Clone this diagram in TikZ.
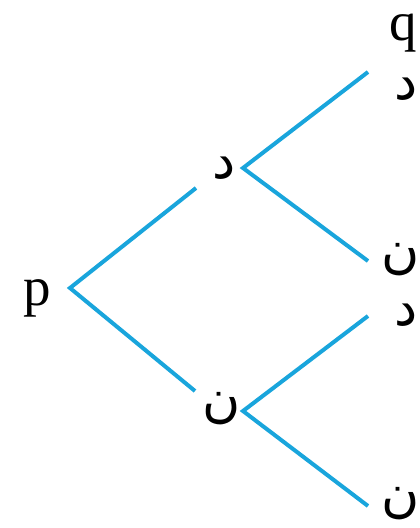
\documentclass[tikz,border=0pt]{standalone}
\usepackage{fontspec}
\setmainfont{Liberation Serif}
\newfontfamily\arabicfont[Script=Arabic]{DejaVu Sans}
\TeXXeTstate=1
\definecolor{branch}{RGB}{25,165,220}
\tikzset{
  br/.style={draw=branch, line width=4pt, line cap=butt},
  lat/.style={inner sep=0pt, anchor=base, font=\fontsize{55}{60}\selectfont},
  ar/.style={inner sep=0pt, font=\arabicfont\fontsize{52}{58}\selectfont},
}
\begin{document}
\begin{tikzpicture}[x=1pt,y=-1pt]
\useasboundingbox (0,0) rectangle (420,528);
% labels
\node[lat] (p) at (37,305) {p};
\node[lat] (q) at (403,40) {q};
\node[ar] (d1) at (224,168) {\beginR د\endR};
\node[ar] (n1) at (222,409) {\beginR ن\endR};
\node[ar] (dd) at (406,89) {\beginR د\endR};
\node[ar] (dn) at (401,260) {\beginR ن\endR};
\node[ar] (nd) at (406,315) {\beginR د\endR};
\node[ar] (nn) at (401,504) {\beginR ن\endR};
% branch points
\coordinate (r) at (70,288);
\coordinate (a1) at (196,188);
\coordinate (a2) at (195,391);
\coordinate (v1) at (243,168);
\coordinate (v2) at (243,411);
\coordinate (e1) at (368,72);
\coordinate (e2) at (368,261);
\coordinate (e3) at (368,316);
\coordinate (e4) at (368,506);
\draw[br] (a1) -- (r) -- (a2);
\draw[br] (e1) -- (v1) -- (e2);
\draw[br] (e3) -- (v2) -- (e4);
\end{tikzpicture}
\end{document}
